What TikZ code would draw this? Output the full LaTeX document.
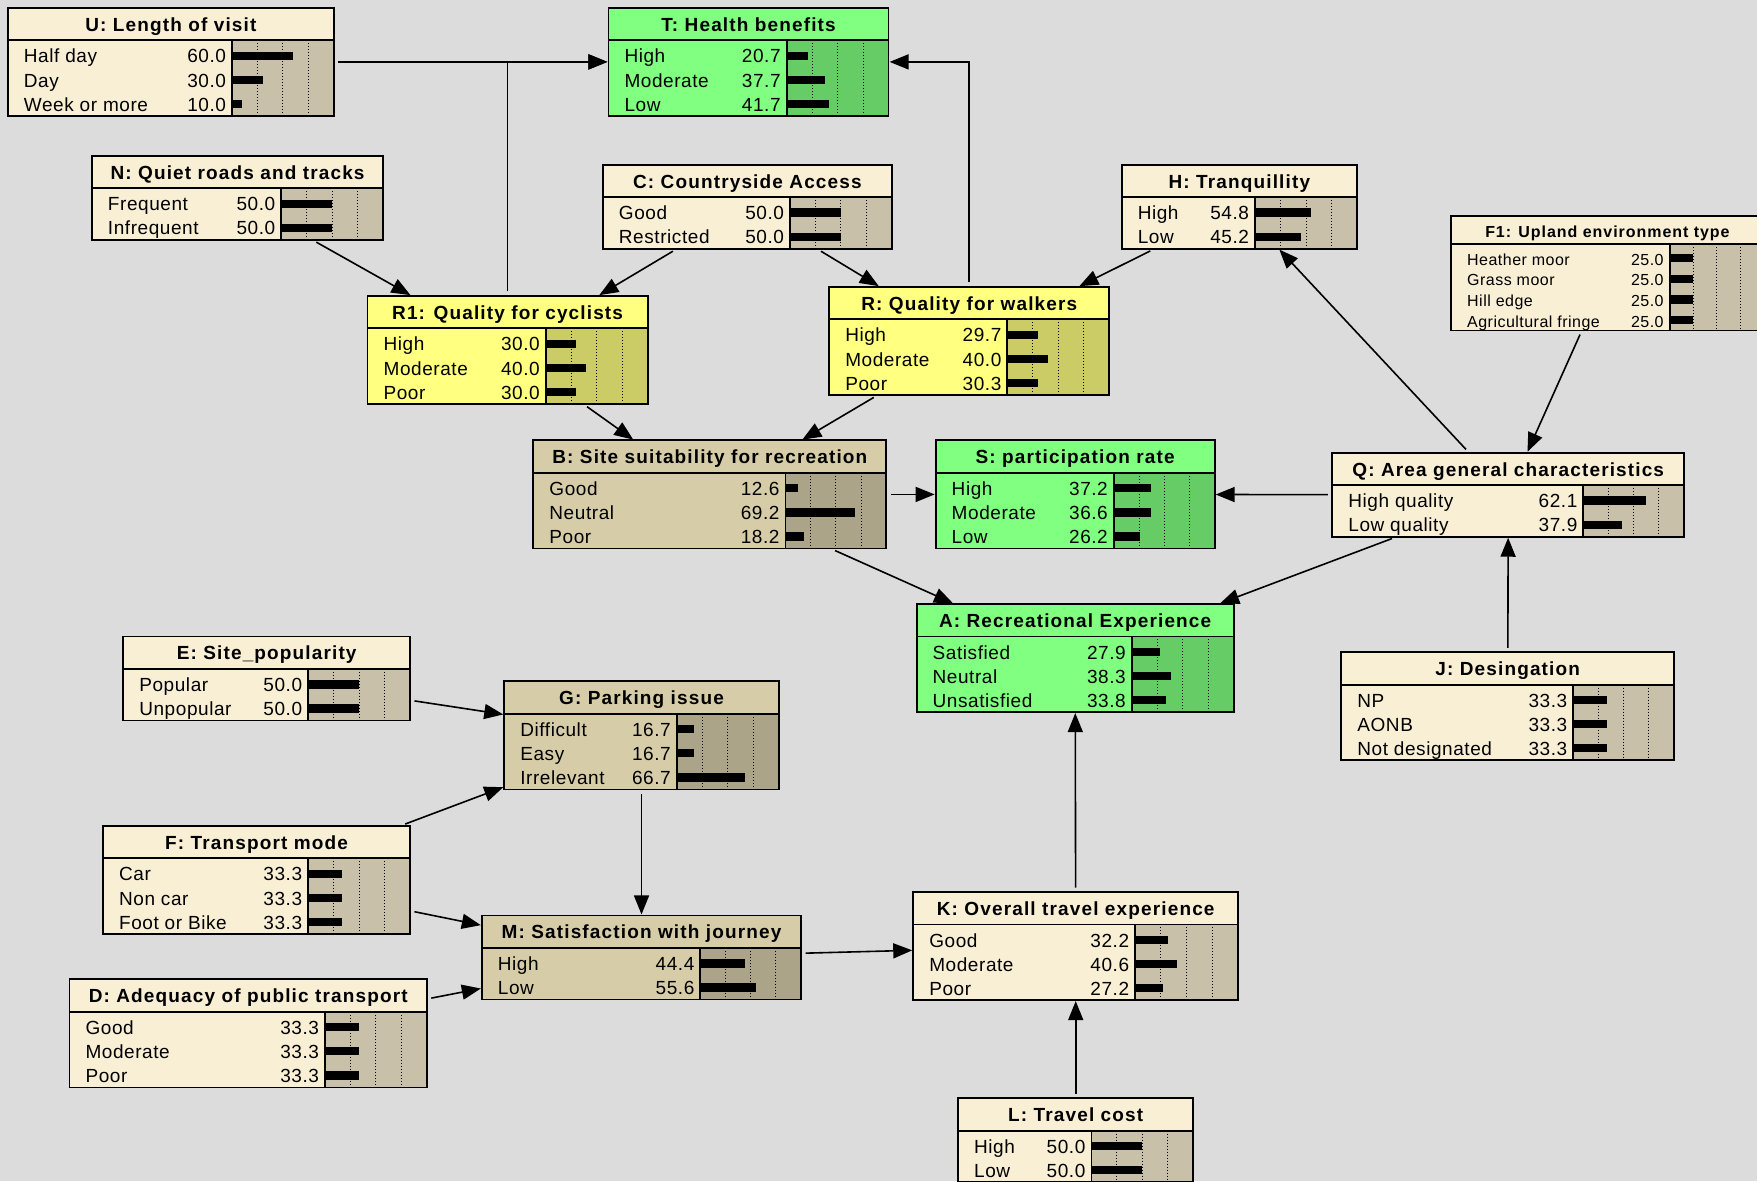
\documentclass[tikz,border=0pt]{standalone}
\usepackage{fontspec}
\setmainfont{Liberation Sans}
\newfontfamily\headfont[LetterSpace=6]{Liberation Sans}
\newfontfamily\rowfont[LetterSpace=3]{Liberation Sans}
\usepackage{tikz}
\usetikzlibrary{arrows.meta, fit}

\definecolor{canvas}{HTML}{DCDCDC}
\definecolor{plainhead}{HTML}{F8EFD5}
\definecolor{plainbody}{HTML}{F8EFD5}
\definecolor{plainbar}{HTML}{C9C0AA}
\definecolor{greenhead}{HTML}{80FF80}
\definecolor{greenbody}{HTML}{80FF80}
\definecolor{greenbar}{HTML}{66CC66}
\definecolor{yellowhead}{HTML}{FFFF80}
\definecolor{yellowbody}{HTML}{FFFF80}
\definecolor{yellowbar}{HTML}{CCCC66}
\definecolor{tanhead}{HTML}{D6CDA8}
\definecolor{tanbody}{HTML}{D6CDA8}
\definecolor{tanbar}{HTML}{ABA488}

\def\rowh{21.5}
\def\titleh{29}

% #1 palette, #2 name, #3 left, #4 top, #5 right, #6 bar start, #7 title, #8 states
\newcommand{\bnnode}[8]{%
  \foreach \lbl/\pct [count=\k] in {#8} {\xdef\nst{\k}}%
  \pgfmathsetmacro{\titlebot}{#4+\titleh}%
  \pgfmathsetmacro{\boxbot}{\titlebot+\nst*\rowh+3}%
  \node[fit={(#3,#4) (#5,\boxbot)}, inner sep=0pt, fill=#1body] (#2) {};
  \fill[#1head] (#3,#4) rectangle (#5,\titlebot);
  \fill[#1bar] (#6,\titlebot) rectangle (#5,\boxbot);
  \foreach \q in {0.25,0.5,0.75}
    \draw[grid] ({#6+\q*(#5-#6)},\titlebot) -- ({#6+\q*(#5-#6)},\boxbot);
  \node[title] (#2-t) at ({(#3+#5)/2},{#4+\titleh/2}) {#7};
  \foreach \lbl/\pct [count=\k] in {#8} {
    \pgfmathsetmacro{\yc}{\titlebot+3+(\k-0.5)*\rowh}
    \node[row, anchor=west] (#2-l\k) at ({#3+14},\yc) {\lbl};
    \node[row, anchor=east] (#2-v\k) at ({#6-5},\yc) {\pct};
    \fill ({#6},{\yc-3.7}) rectangle ({#6+\pct/100*(#5-#6)},{\yc+3.7});
  }
  \draw[frame] (#3,#4) rectangle (#5,\boxbot);
  \draw[frame] (#3,\titlebot) -- (#5,\titlebot);
  \draw[frame] (#6,\titlebot) -- (#6,\boxbot);
}

\begin{document}
\begin{tikzpicture}[
    x=0.5603pt, y=-0.5603pt,
    title/.style={font=\headfont\bfseries\fontsize{9.5}{11}\selectfont, inner sep=0pt, text height=0.72em, text depth=0pt},
    row/.style={font=\rowfont\fontsize{9.5}{11}\selectfont, inner sep=0pt, text height=0.72em, text depth=0pt},
    grid/.style={densely dotted, line width=0.5pt},
    frame/.style={line width=0.9pt},
    link/.style={-{Triangle[length=9.5pt, width=7.5pt]}, line width=0.8pt, shorten >=0.3pt, shorten <=2pt}
]
    \useasboundingbox (0,0) rectangle (1568,1054);
    \fill[canvas] (0,0) rectangle (1568,1054);

    \bnnode{plain}{U}{7}{7}{298}{207}{U: Length of visit}{Half day/60.0, Day/30.0, Week or more/10.0}
    \bnnode{green}{T}{543}{7}{793}{702}{T: Health benefits}{High/20.7, Moderate/37.7, Low/41.7}
    \bnnode{plain}{N}{82}{139}{342}{251}{N: Quiet roads and tracks}{Frequent/50.0, Infrequent/50.0}
    \bnnode{plain}{C}{538}{147}{796}{705}{C: Countryside Access}{Good/50.0, Restricted/50.0}
    \bnnode{plain}{H}{1001}{147}{1211}{1120}{H: Tranquillity}{High/54.8, Low/45.2}
    \begin{scope}[title/.append style={font=\headfont\bfseries\fontsize{8}{9}\selectfont},
                  row/.append style={font=\rowfont\fontsize{8}{9}\selectfont}]
        \def\rowh{18.5}
        \def\titleh{25}
        \bnnode{plain}{F1}{1295}{193}{1574}{1490}{F1: Upland environment type}{Heather moor/25.0, Grass moor/25.0, Hill edge/25.0, Agricultural fringe/25.0}
    \end{scope}
    \bnnode{yellow}{R1}{328}{264}{578}{487}{R1: Quality for cyclists}{High/30.0, Moderate/40.0, Poor/30.0}
    \bnnode{yellow}{R}{740}{256}{990}{899}{R: Quality for walkers}{High/29.7, Moderate/40.0, Poor/30.3}
    \bnnode{tan}{B}{476}{393}{791}{701}{B: Site suitability for recreation}{Good/12.6, Neutral/69.2, Poor/18.2}
    \bnnode{green}{S}{835}{393}{1084}{994}{S: participation rate}{High/37.2, Moderate/36.6, Low/26.2}
    \bnnode{plain}{Q}{1189}{404}{1503}{1413}{Q: Area general characteristics}{High quality/62.1, Low quality/37.9}
    \bnnode{green}{A}{818}{539}{1101}{1010}{A: Recreational Experience}{Satisfied/27.9, Neutral/38.3, Unsatisfied/33.8}
    \bnnode{plain}{E}{110}{568}{366}{275}{E: Site\_popularity}{Popular/50.0, Unpopular/50.0}
    \bnnode{tan}{G}{450}{608}{695}{604}{G: Parking issue}{Difficult/16.7, Easy/16.7, Irrelevant/66.7}
    \bnnode{plain}{J}{1197}{582}{1494}{1404}{J: Desingation}{NP/33.3, AONB/33.3, Not designated/33.3}
    \bnnode{plain}{F}{92}{737}{366}{275}{F: Transport mode}{Car/33.3, Non car/33.3, Foot or Bike/33.3}
    \bnnode{plain}{K}{815}{796}{1105}{1013}{K: Overall travel experience}{Good/32.2, Moderate/40.6, Poor/27.2}
    \bnnode{tan}{M}{430}{817}{715}{625}{M: Satisfaction with journey}{High/44.4, Low/55.6}
    \bnnode{plain}{D}{62}{874}{381}{290}{D: Adequacy of public transport}{Good/33.3, Moderate/33.3, Poor/33.3}
    \bnnode{plain}{L}{855}{980}{1065}{974}{L: Travel cost}{High/50.0, Low/50.0}

    \draw[link] (U) -- (T);
    \draw[link] (R1) |- (T);
    \draw[link] (R) |- (T);
    \draw[link] (N) -- (R1);
    \draw[link] (C) -- (R1);
    \draw[link] (C) -- (R);
    \draw[link] (H) -- (R);
    \draw[link] (R1) -- (B);
    \draw[link] (R) -- (B);
    \draw[link] (B) -- (S);
    \draw[link] (Q) -- (S);
    \draw[link] (B) -- (A);
    \draw[link] (Q) -- (A);
    \draw[link] (F1) -- (Q);
    \draw[link] (Q) -- (H);
    \draw[link] (J) -- (Q);
    \draw[link] (E) -- (G);
    \draw[link] (F) -- (G);
    \draw[link] (G) -- (M);
    \draw[link] (F) -- (M);
    \draw[link] (D) -- (M);
    \draw[link] (M) -- (K);
    \draw[link] (K) -- (A);
    \draw[link] (L) -- (K);
\end{tikzpicture}
\end{document}
